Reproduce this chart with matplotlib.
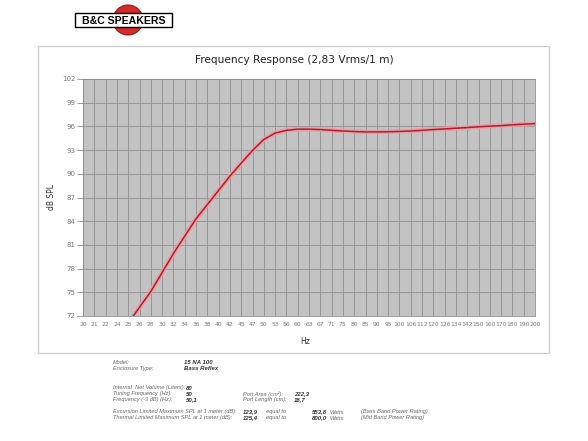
import matplotlib
matplotlib.use("Agg")
import matplotlib.pyplot as plt
from matplotlib.patches import Rectangle, Circle

# frequency points (categorical axis, evenly spaced)
freq_labels = ["20", "21", "22", "24", "25", "26", "28", "30", "32", "34", "36", "38",
               "40", "42", "45", "47", "50", "53", "56", "60", "63", "67", "71", "75",
               "80", "85", "90", "95", "100", "106", "112", "120", "126", "134", "142",
               "150", "160", "170", "180", "190", "200"]
spl_db = [63.5, 65.5, 67.5, 69.3, 71.1, 73.1, 75.1, 77.5, 79.9, 82.1, 84.3, 86.1,
          87.9, 89.7, 91.35, 92.95, 94.35, 95.15, 95.5, 95.65, 95.65, 95.6, 95.5, 95.42,
          95.35, 95.3, 95.3, 95.32, 95.36, 95.42, 95.5, 95.6, 95.68, 95.77, 95.85,
          95.95, 96.03, 96.1, 96.2, 96.28, 96.35]
y_ticks = [72, 75, 78, 81, 84, 87, 90, 93, 96, 99, 102]

info_left = [("Model:", "15 NA 100"), ("Enclosure Type:", "Bass Reflex")]
info_mid = [("Internal  Net Volume (Liters):", "80"),
            ("Tuning Frequency (Hz):", "50"),
            ("Frequency (-3 dB) (Hz):", "50,1")]
info_port = [("Port Area (cm²):", "222,3"), ("Port Length (cm):", "18,7")]
info_spl = [("Excursion Limited Maximum SPL at 1 meter (dB):", "123,9", "553,8", "(Bass Band Power Rating)"),
            ("Thermal Limited Maximum SPL at 1 meter (dB):", "125,4", "800,0", "(Mid Band Power Rating)")]

W, H = 588, 441
fig = plt.figure(figsize=(W / 100, H / 100), dpi=100)

# overlay in pixel coordinates for frame, logo and text block
ov = fig.add_axes([0, 0, 1, 1], zorder=0)
ov.set_xlim(0, W)
ov.set_ylim(H, 0)
ov.axis("off")

ov.add_patch(Rectangle((38, 46), 511, 307, fill=False, ec="#d0d0d0", lw=1))

# logo
ov.add_patch(Circle((128, 20), 15, fc="#d42a2a", ec="#9a1818", lw=0.8))
ov.add_patch(Rectangle((75, 13), 97, 14, fc="white", ec="black", lw=1.0))
ov.text(123.5, 20.5, "B&C SPEAKERS", ha="center", va="center", fontsize=7.6,
        fontweight="bold", family="Liberation Sans", color="black")

ax = fig.add_axes([83 / W, 1 - 316 / H, 452 / W, 237 / H], zorder=1)
ax.set_facecolor("#c3c3c3")
x = list(range(len(freq_labels)))
ax.plot(x, spl_db, color="#ec9ca6", lw=3.4, alpha=0.85, solid_capstyle="butt")
ax.plot(x, spl_db, color="#b01e2c", lw=1.1)
ax.set_xlim(0, len(freq_labels) - 1)
ax.set_ylim(72, 102)
ax.set_xticks(x)
ax.set_xticklabels(freq_labels)
ax.set_yticks(y_ticks)
ax.grid(True, color="#8e8e8e", lw=0.6)
ax.set_axisbelow(True)
for s in ax.spines.values():
    s.set_color("#8e8e8e")
    s.set_linewidth(0.6)
ax.tick_params(axis="x", labelsize=4.3, colors="#777777", length=0, pad=4)
ax.tick_params(axis="y", labelsize=5, colors="#777777", length=4, pad=1.5, width=0.5)

ov.text(294, 60, "Frequency Response (2,83 Vrms/1 m)", ha="center", va="center",
        fontsize=7.6, color="#222222")
ov.text(51, 197, "dB SPL", rotation=90, ha="center", va="center", fontsize=5.5, color="#333333")
ov.text(305, 341, "Hz", ha="center", va="center", fontsize=5.5, color="#333333")

fam = ["Liberation Sans Narrow", "Liberation Sans"]
ts = dict(fontsize=4.1, style="italic", family=fam, color="#666666", va="center")
tb = dict(fontsize=4.3, style="italic", fontweight="bold", family=fam,
          color="#333333", va="center")

for i, (lab, val) in enumerate(info_left):
    y = 362 + i * 6.5
    ov.text(113, y, lab, **ts)
    ov.text(184, y, val, **tb)
for i, (lab, val) in enumerate(info_mid):
    y = 388 + i * 6
    ov.text(113, y, lab, **ts)
    ov.text(186, y, val, **tb)
for i, (lab, val) in enumerate(info_port):
    y = 394 + i * 6
    ov.text(243, y, lab, **ts)
    ov.text(294, y, val, **tb)
for i, (lab, db, watts, note) in enumerate(info_spl):
    y = 412 + i * 6
    ov.text(113, y, lab, **ts)
    ov.text(243, y, db, **tb)
    ov.text(266, y, "equal to", **ts)
    ov.text(312, y, watts, **tb)
    ov.text(330, y, "Watts", **ts)
    ov.text(361, y, note, **ts)

fig.savefig("out.png", dpi=100)
